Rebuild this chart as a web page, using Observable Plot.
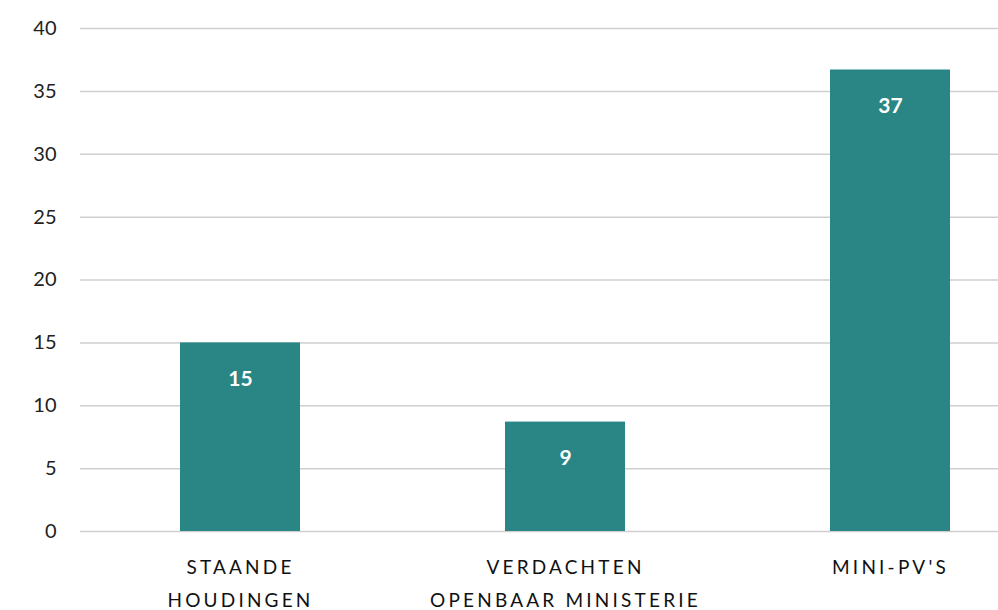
<!DOCTYPE html>
<html>
<head>
<meta charset="utf-8">
<script src="https://cdn.jsdelivr.net/npm/d3@7"></script>
<script src="https://cdn.jsdelivr.net/npm/@observablehq/plot@0.6"></script>
<style>
  html, body { margin: 0; padding: 0; background: #fff; overflow: hidden; }
  .chart { font-family: Lato, "Noto Sans", sans-serif; }
  .chart g[aria-label="x-axis tick label"] { letter-spacing: 3.2px; }
</style>
</head>
<body>
<div id="chart"></div>
<script>
const categories = ["STAANDE\nHOUDINGEN", "VERDACHTEN\nOPENBAAR MINISTERIE", "MINI-PV'S"];
const values = [15, 8.7, 36.7];
const valueLabels = ["15", "9", "37"];
const yTicks = [0, 5, 10, 15, 20, 25, 30, 35, 40];

const data = categories.map((c, i) => ({category: c, value: values[i], label: valueLabels[i]}));
const teal = "#298684";

const chart = Plot.plot({
  className: "chart",
  width: 998,
  height: 610,
  marginLeft: 80,
  marginRight: 0,
  marginTop: 28,
  marginBottom: 79,
  style: {fontFamily: "Lato, 'Noto Sans', sans-serif", background: "#fff", overflow: "visible"},
  x: {domain: categories, range: [180, 950], paddingInner: 0.6308, paddingOuter: 0},
  y: {domain: [0, 40]},
  marks: [
    Plot.gridY(yTicks, {stroke: "#cfcfcf", strokeOpacity: 1, strokeWidth: 1.5}),
    Plot.axisY(yTicks, {tickSize: 0, tickPadding: 24, fontSize: 20, fill: "#222", label: null}),
    Plot.barY(data, {x: "category", y: "value", fill: teal}),
    Plot.text(data, {x: "category", y: "value", text: "label", dy: 36, fill: "#fff", fontSize: 21, fontWeight: "bold"}),
    Plot.axisX(categories, {tickSize: 0, tickPadding: 19, fontSize: 19, fill: "#111", label: null, lineHeight: 1.74, lineAnchor: "top"})
  ]
});
document.getElementById("chart").appendChild(chart);
</script>
</body>
</html>
